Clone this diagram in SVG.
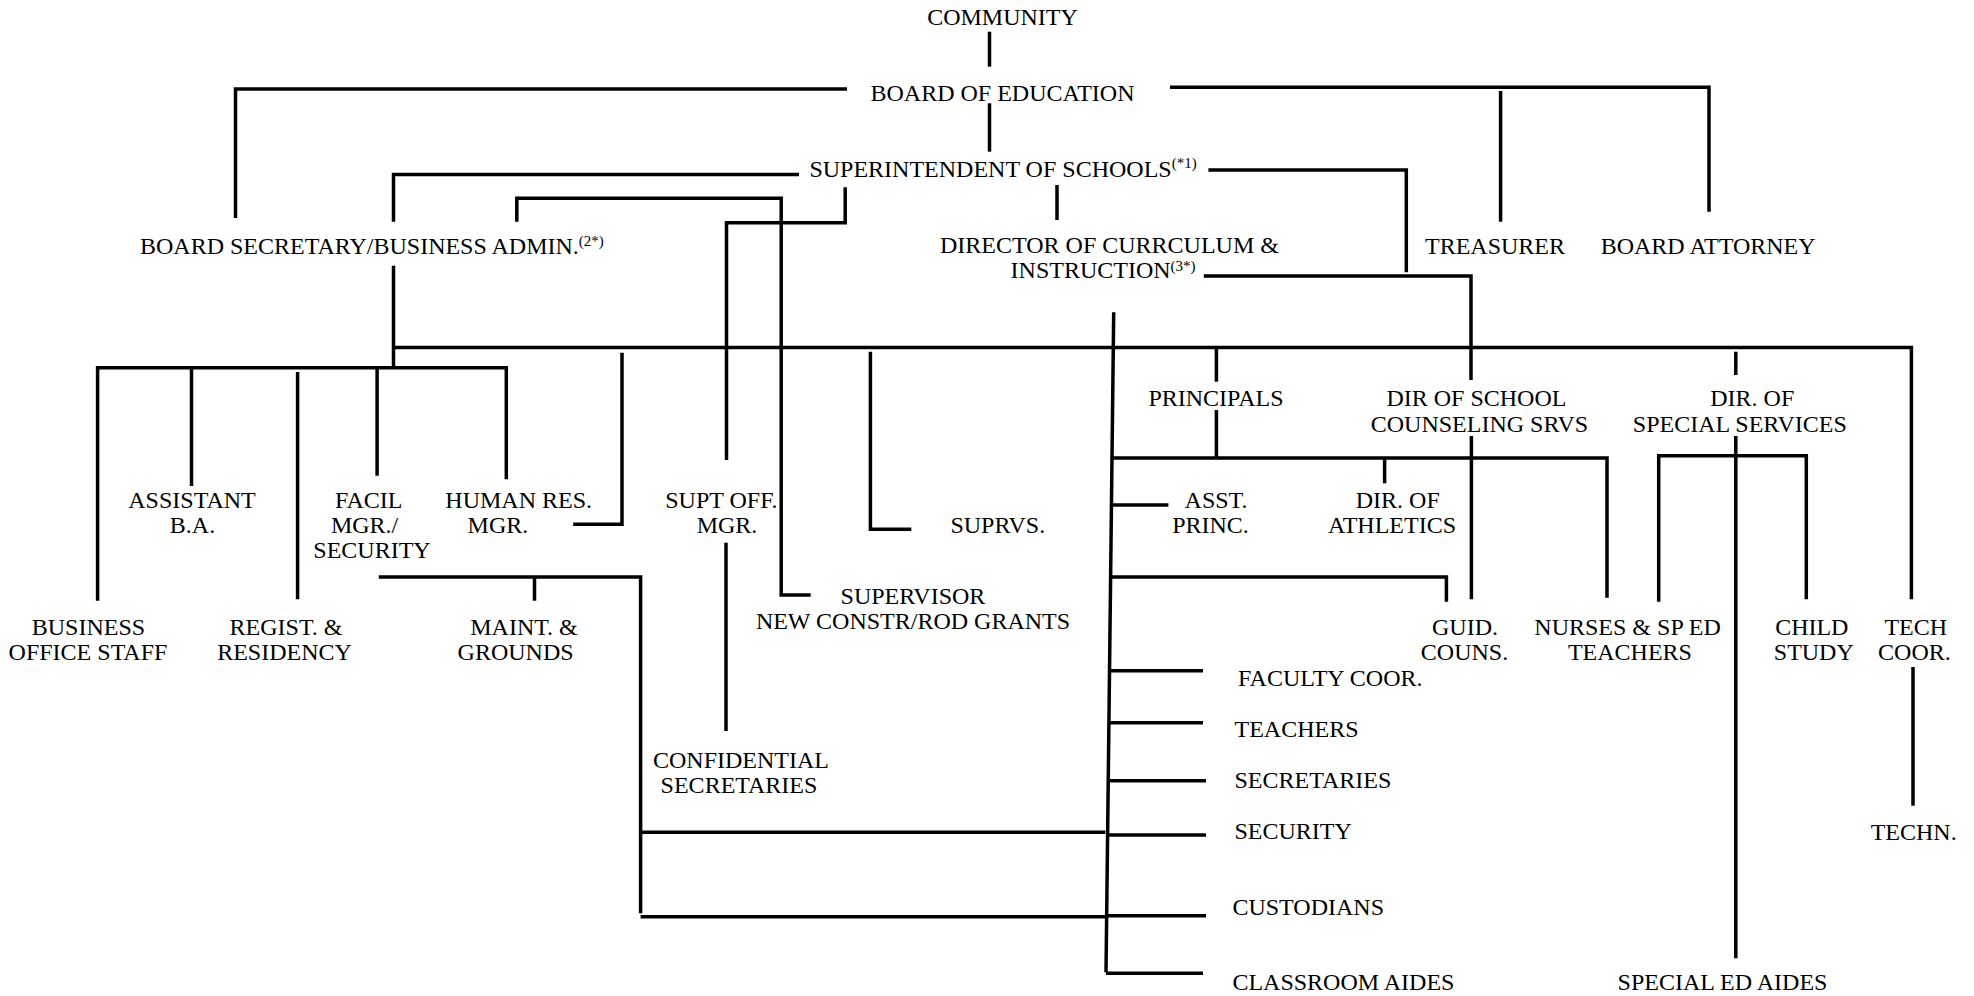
<svg xmlns="http://www.w3.org/2000/svg" width="1974" height="996" viewBox="0 0 1974 996">
<style>
  text { font-family: "Liberation Serif", "Times New Roman", serif; font-size: 24px; fill: #000; }
  .m { text-anchor: middle; }
  .sup { font-size: 15px; }
  #connectors path { fill: none; stroke: #000; stroke-width: 3.5; stroke-linecap: butt; stroke-linejoin: miter; }
</style>
<rect width="1974" height="996" fill="#fff"/>
<g id="connectors">
  <path d="M989.5 31.7 V66.7"/>
  <path d="M235.5 218 V89 H847"/>
  <path d="M1170 87.3 H1709 V211.7"/>
  <path d="M1500.6 91 V221.7"/>
  <path d="M989.5 103.3 V151.7"/>
  <path d="M799 174.5 H393.5 V221.7"/>
  <path d="M1057 185 V220"/>
  <path d="M1208.4 170 H1406.3 V272.3"/>
  <path d="M845.2 187.3 V222.7 H726.5 V460"/>
  <path d="M516.8 221.7 V198.3 H781.2 V595 H810.7"/>
  <path d="M1203.8 276 H1471 V380"/>
  <path d="M1471.4 436 V599.3"/>
  <path d="M1113.7 312.3 L1106 972.3"/>
  <path d="M393.5 265.7 V366.7"/>
  <path d="M393.5 347.5 H1911.4 V599.3"/>
  <path d="M97.6 600.7 V367.7 H506.3 V479.3"/>
  <path d="M191.5 367.7 V486"/>
  <path d="M377.1 367.7 V475.7"/>
  <path d="M297.6 372 V599.3"/>
  <path d="M622 352.7 V524.3 H573.2"/>
  <path d="M726 542.7 V731"/>
  <path d="M870.4 351.7 V529.3 H911.3"/>
  <path d="M1216.4 347.5 V381.7"/>
  <path d="M1216.4 410 V458"/>
  <path d="M1112 458 H1607 V597.7"/>
  <path d="M1384.6 458 V483.3"/>
  <path d="M1112 505 H1168.4"/>
  <path d="M1109.5 577 H1446.4 V601.7"/>
  <path d="M378.8 577 H640.6 V913.3"/>
  <path d="M534.5 577 V600.7"/>
  <path d="M640.6 832.3 H1105.3"/>
  <path d="M640.6 916.7 H1106"/>
  <path d="M1110 670.7 H1203"/>
  <path d="M1109 722.7 H1203"/>
  <path d="M1108 780.7 H1206"/>
  <path d="M1107 835 H1206"/>
  <path d="M1106 915.7 H1206"/>
  <path d="M1106 973.3 H1203"/>
  <path d="M1735.8 351.7 V375"/>
  <path d="M1735.8 436 V958.3"/>
  <path d="M1658.7 601.7 V455.7 H1806.3 V599.3"/>
  <path d="M1913 667 V805.7"/>
</g>
<g id="community"><text class="m" x="1002.5" y="25">COMMUNITY</text></g>
<g id="board-of-education"><text class="m" x="1002.5" y="100.7">BOARD OF EDUCATION</text></g>
<g id="superintendent"><text x="809.4" y="176.7">SUPERINTENDENT OF SCHOOLS<tspan class="sup" dy="-9">(*1)</tspan></text></g>
<g id="board-secretary"><text x="140" y="254">BOARD SECRETARY/BUSINESS ADMIN.<tspan class="sup" dy="-8">(2*)</tspan></text></g>
<g id="director-curriculum">
  <text x="940" y="253.3">DIRECTOR OF CURRCULUM &amp;</text>
  <text x="1010.6" y="278.3">INSTRUCTION<tspan class="sup" dy="-7">(3*)</tspan></text>
</g>
<g id="treasurer"><text x="1425" y="254">TREASURER</text></g>
<g id="board-attorney"><text x="1600.7" y="254">BOARD ATTORNEY</text></g>
<g id="assistant-ba"><text class="m" x="192" y="508.3">ASSISTANT</text><text class="m" x="192.5" y="533.3">B.A.</text></g>
<g id="facil-mgr"><text class="m" x="368.7" y="508.3">FACIL</text><text class="m" x="364.6" y="533.3">MGR./</text><text class="m" x="372" y="558.3">SECURITY</text></g>
<g id="human-res"><text class="m" x="518.7" y="508.3">HUMAN RES.</text><text class="m" x="497.9" y="533.3">MGR.</text></g>
<g id="supt-off-mgr"><text class="m" x="721.4" y="508.3">SUPT OFF.</text><text class="m" x="727" y="533.3">MGR.</text></g>
<g id="suprvs"><text x="950.4" y="533.3">SUPRVS.</text></g>
<g id="principals"><text class="m" x="1216" y="406">PRINCIPALS</text></g>
<g id="asst-princ"><text class="m" x="1216" y="508.3">ASST.</text><text class="m" x="1210.5" y="533.3">PRINC.</text></g>
<g id="dir-athletics"><text class="m" x="1397.8" y="508.3">DIR. OF</text><text class="m" x="1392" y="533.3">ATHLETICS</text></g>
<g id="dir-counseling"><text class="m" x="1476.4" y="406">DIR OF SCHOOL</text><text class="m" x="1479.5" y="431.7">COUNSELING SRVS</text></g>
<g id="dir-special"><text class="m" x="1752.3" y="406">DIR. OF</text><text class="m" x="1739.8" y="431.7">SPECIAL SERVICES</text></g>
<g id="business-office"><text class="m" x="88.4" y="635">BUSINESS</text><text class="m" x="88" y="660">OFFICE STAFF</text></g>
<g id="regist"><text class="m" x="286" y="635">REGIST. &amp;</text><text class="m" x="284.5" y="660">RESIDENCY</text></g>
<g id="maint"><text class="m" x="524" y="635">MAINT. &amp;</text><text class="m" x="515.6" y="660">GROUNDS</text></g>
<g id="supervisor"><text class="m" x="913" y="604">SUPERVISOR</text><text class="m" x="913" y="629">NEW CONSTR/ROD GRANTS</text></g>
<g id="guid-couns"><text class="m" x="1465" y="635">GUID.</text><text class="m" x="1464.5" y="660">COUNS.</text></g>
<g id="nurses"><text class="m" x="1627.6" y="635">NURSES &amp; SP ED</text><text class="m" x="1629.9" y="660">TEACHERS</text></g>
<g id="child-study"><text class="m" x="1811.8" y="635">CHILD</text><text class="m" x="1813.8" y="660">STUDY</text></g>
<g id="tech-coor"><text class="m" x="1915.8" y="635">TECH</text><text class="m" x="1914.4" y="660">COOR.</text></g>
<g id="confidential"><text class="m" x="741" y="768.3">CONFIDENTIAL</text><text class="m" x="739" y="793.3">SECRETARIES</text></g>
<g id="faculty-coor"><text x="1238" y="686">FACULTY COOR.</text></g>
<g id="teachers"><text x="1234.5" y="737.3">TEACHERS</text></g>
<g id="secretaries"><text x="1234.5" y="788.3">SECRETARIES</text></g>
<g id="security"><text x="1234.5" y="839">SECURITY</text></g>
<g id="custodians"><text x="1232.4" y="915">CUSTODIANS</text></g>
<g id="classroom-aides"><text x="1232.4" y="990">CLASSROOM AIDES</text></g>
<g id="techn"><text class="m" x="1913.7" y="840">TECHN.</text></g>
<g id="special-ed-aides"><text class="m" x="1722.5" y="990">SPECIAL ED AIDES</text></g>
</svg>
